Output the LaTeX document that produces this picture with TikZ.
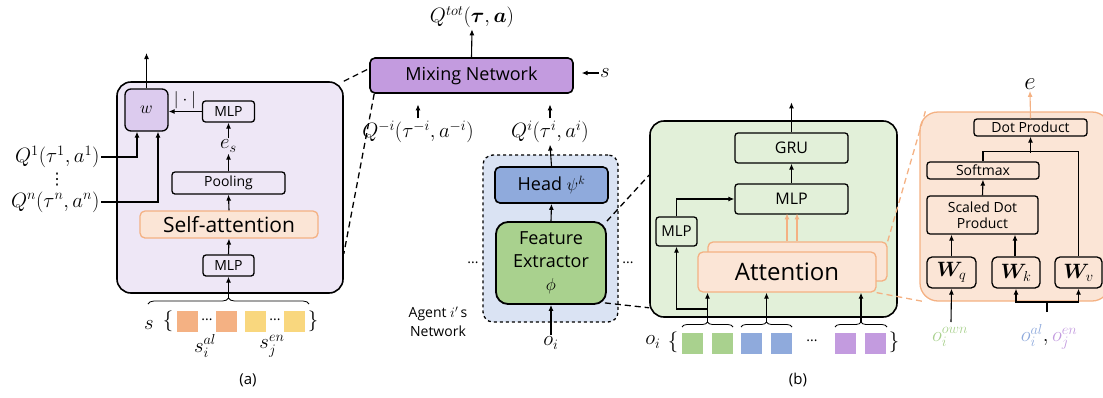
\documentclass[tikz,border=0pt]{standalone}
\usepackage{fontspec}
\setmainfont{Open Sans}
\newfontfamily\symfont{DejaVu Sans}
\usepackage{amsmath}
\usepackage{bm}
\usetikzlibrary{arrows.meta,calc,decorations.pathreplacing}

\definecolor{lavpanel}{HTML}{EEE7F6}
\definecolor{lavbox}{HTML}{DCCBEE}
\definecolor{mixpurple}{HTML}{C39BDF}
\definecolor{attorange}{HTML}{F4B183}
\definecolor{attfill}{HTML}{FBE5D6}
\definecolor{featgreen}{HTML}{A9D18E}
\definecolor{greenpanel}{HTML}{E2F0D9}
\definecolor{headblue}{HTML}{8FAADC}
\definecolor{agentblue}{HTML}{DAE3F3}
\definecolor{entyellow}{HTML}{F9D77E}

\tikzset{
  box/.style={draw, line width=1.3pt, rounded corners=3pt, inner sep=0pt, align=center},
  panel/.style={draw, line width=1.6pt, rounded corners=14pt},
  attbox/.style={draw=attorange, fill=attfill, line width=1.3pt, rounded corners=5pt},
  sq/.style={minimum size=21pt, inner sep=0pt},
  link/.style={dash pattern=on 6pt off 4pt, line width=1.3pt},
  txtbig/.style={font=\fontsize{18}{23}\selectfont},
  txtmid/.style={font=\fontsize{15}{18}\selectfont},
  txtsmall/.style={font=\fontsize{14}{16}\selectfont},
  mathlbl/.style={font=\fontsize{22}{26}\selectfont, inner sep=1pt},
  mathsub/.style={font=\fontsize{20}{22}\selectfont, inner sep=1pt},
}

\begin{document}
\begin{tikzpicture}[x=1pt, y=-1pt, >={Latex[length=6pt,width=5pt]}, line width=1.1pt]
\useasboundingbox (0,0) rectangle (1103,397);

% (a) mixing network
\node[panel, fill=lavpanel, minimum width=226pt, minimum height=211pt] (panelA) at (230,187.5) {};
\node[box, fill=lavbox, rounded corners=6pt, minimum width=43pt, minimum height=42pt, font=\fontsize{16}{16}\selectfont] (wbox) at (146.5,110) {$w$};
\node[box, txtsmall, minimum width=52pt, minimum height=21pt] (mlpTop) at (228.5,111.5) {MLP};
\node[mathsub] (es) at (228.5,146) {$e_s$};
\node[box, txtsmall, minimum width=113pt, minimum height=22pt] (pool) at (228.5,183) {Pooling};
\node[attbox, font=\fontsize{21}{24}\selectfont, minimum width=178pt, minimum height=27pt] (selfatt) at (229,224.5) {Self-attention};
\node[box, txtsmall, minimum width=51pt, minimum height=21pt] (mlpBot) at (228.5,265.5) {MLP};
\node[font=\fontsize{18}{18}\selectfont] (absv) at (185,100) {$|\cdot|$};
\coordinate (outA) at (146.5,53);
\draw[->] (wbox.north) -- (outA);
\draw[->] (mlpTop.west) -- (mlpTop.west -| wbox.east);
\draw[->] (pool.north) -- (es.south);
\draw[->] (es.north) -- (mlpTop.south);
\draw[->] (selfatt.north) -- (pool.south);
\draw[->] (mlpBot.north) -- (selfatt.south);
\node[mathlbl, anchor=east] (q1) at (101,157) {$Q^1(\tau^1,a^1)$};
\node[mathlbl, anchor=east] (qn) at (101,202) {$Q^n(\tau^n,a^n)$};
\node[font=\symfont\fontsize{16}{16}\selectfont] (qdots) at (57,180) {⋮};
\draw[->] (q1.east) -| ($(wbox.south)+(-9.5,0)$);
\draw[->] (qn.east) -| ($(wbox.south)+(11.5,0)$);

% state input
\draw[decorate, decoration={brace, amplitude=6pt}, line width=0.8pt] (148,304) -- (309,304);
\coordinate (bA) at (228.5,298);
\draw[->, line width=1.4pt] (bA) -- (mlpBot.south);
\node[mathlbl] (sA) at (149,325) {$s$};
\node[font=\fontsize{22}{22}\selectfont] (lbA) at (168,321) {$\{$};
\node[font=\fontsize{22}{22}\selectfont] (rbA) at (313,321) {$\}$};
\foreach \x in {187.5,226.5} \node[sq, fill=attorange] at (\x,321.5) {};
\foreach \x in {255.5,294.5} \node[sq, fill=entyellow] at (\x,321.5) {};
\node[txtsmall] at (207,320) {...};
\node[txtsmall] at (275,320) {...};
\node[mathsub] (sal) at (205,346) {$s_i^{al}$};
\node[mathsub] (sen) at (272,346) {$s_j^{en}$};
\node[txtmid] (capA) at (248,380) {(a)};

% mixing network on top
\node[box, txtbig, fill=mixpurple, line width=1.6pt, rounded corners=5pt, minimum width=203pt, minimum height=35pt] (mix) at (471.5,75.5) {Mixing Network};
\node[mathlbl] (qtot) at (472,17) {$Q^{tot}(\bm{\tau},\bm{a})$};
\draw[->] (mix.north) -- (qtot.south);
\node[mathlbl] (smix) at (605,73) {$s$};
\draw[->] (smix.west) -- ++(-17,0);
\node[mathlbl] (qmi) at (418,132) {$Q^{-i}(\tau^{-i},a^{-i})$};
\node[mathlbl] (qi) at (550,132) {$Q^{i}(\tau^{i},a^{i})$};
\draw[->] ($(qmi.north)+(0,-1)$) -- ++(0,-14);
\draw[->] ($(qi.north)+(0,-1)$) -- ++(0,-14);
\draw[link] (panelA.north east) -- ($(mix.west)+(0,-7)$);
\draw[link] ($(mix.south west)+(5,0)$) -- ($(panelA.south east)+(0,-40)$);

% agent network
\node[draw, dashed, fill=agentblue, line width=1.3pt, rounded corners=10pt, minimum width=135pt, minimum height=167pt] (agentbox) at (550.5,238.5) {};
\node[box, txtbig, fill=headblue, line width=1.6pt, rounded corners=5pt, minimum width=113pt, minimum height=36pt] (head) at (551.5,185) {Head $\psi^k$};
\node[box, txtbig, fill=featgreen, line width=1.8pt, rounded corners=12pt, minimum width=110pt, minimum height=82pt] (feat) at (551,263) {Feature\\Extractor\\$\phi$};
\draw[->] (feat.north) -- (head.south);
\draw[->] (head.north) -- (qi.south);
\node[mathlbl] (oi) at (551,343) {$o_i$};
\draw[->] (oi.north) -- (feat.south);
\node[txtsmall] (dotsL) at (473,263) {...};
\node[txtsmall] (dotsR) at (628,263) {...};
\node[txtsmall, align=center, font=\fontsize{14}{19}\selectfont] (agentlbl) at (438,322) {Agent $i'$\,s\\Network};

% (b) feature extractor
\node[panel, fill=greenpanel, minimum width=247pt, minimum height=196pt] (greenbox) at (773.5,219) {};
\draw[link] (feat.north east) -- ($(greenbox.west)+(0,-44)$);
\draw[link] ($(feat.south east)+(-2,-2)$) -- ($(greenbox.south west)+(0,-10)$);
\node[box, font=\fontsize{16}{18}\selectfont, minimum width=113pt, minimum height=30pt] (gru) at (791.5,148) {GRU};
\node[box, font=\fontsize{16}{18}\selectfont, minimum width=113pt, minimum height=30pt] (mlpG) at (791.5,199) {MLP};
\node[box, txtmid, minimum width=41pt, minimum height=29pt] (mlpS) at (676.5,231.5) {MLP};
\node[attbox, minimum width=179pt, minimum height=39pt] (attBack) at (797.5,261.5) {};
\node[attbox, font=\fontsize{24}{26}\selectfont, minimum width=178pt, minimum height=40pt] (attFront) at (787,272) {Attention};
\draw[->] (gru.north) -- ++(0,-30);
\draw[->] (mlpG.north) -- (gru.south);
\foreach \dx in {-10.5,-0.5}
  \draw[->, attorange] ($(attBack.north)+(\dx,0)$) -- ($(attBack.north)+(\dx,-28)$);
\draw[->] (mlpS.north) |- (mlpG.west);

% observation input
\coordinate (b1) at (707.5,322);
\coordinate (b2) at (766.5,322);
\coordinate (b3) at (861,322);
\draw[decorate, decoration={brace, amplitude=5pt}, line width=0.8pt] (682,327) -- (733,327);
\draw[decorate, decoration={brace, amplitude=5pt}, line width=0.8pt] (741,327) -- (792,327);
\draw[decorate, decoration={brace, amplitude=5pt}, line width=0.8pt] (835,327) -- (887,327);
\foreach \b in {b1,b2,b3} \draw[->] (\b) -- (\b |- attFront.south);
\draw[->] ($(b1)+(0,-13)$) -| (mlpS.south);
\node[mathlbl] (oiB) at (653,342) {$o_i$};
\node[font=\fontsize{22}{22}\selectfont] (lbB) at (673,342) {$\{$};
\node[font=\fontsize{22}{22}\selectfont] (rbB) at (894,342) {$\}$};
\foreach \x in {692.5,722.5} \node[sq, fill=featgreen] at (\x,343) {};
\foreach \x in {751.5,781.5} \node[sq, fill=headblue] at (\x,343) {};
\foreach \x in {845.5,875.5} \node[sq, fill=mixpurple] at (\x,343) {};
\node[txtsmall] at (812,341) {...};
\node[txtmid] (capB) at (798,380) {(b)};

% attention detail
\node[draw=attorange, fill=attfill, line width=1.3pt, rounded corners=18pt, minimum width=190pt, minimum height=189pt] (orangebox) at (1015,206.5) {};
\draw[link, attorange] (attBack.north east) -- ($(orangebox.north west)+(6,0)$);
\draw[link, attorange] (attFront.south east) -- ($(orangebox.south west)+(5,0)$);
\node[box, txtsmall, minimum width=113pt, minimum height=17pt] (dotprod) at (1030.5,127.5) {Dot Product};
\node[box, txtsmall, minimum width=112pt, minimum height=17pt] (softmax) at (983,170.5) {Softmax};
\node[box, txtsmall, minimum width=111pt, minimum height=38pt] (scaled) at (982.5,215) {Scaled Dot\\Product};
\node[box, mathlbl, inner sep=0pt, rounded corners=5pt, minimum width=49pt, minimum height=31pt] (wq) at (951.5,272.5) {$\bm{W}_q$};
\node[box, mathlbl, inner sep=0pt, rounded corners=5pt, minimum width=48pt, minimum height=31pt] (wk) at (1016,272.5) {$\bm{W}_k$};
\node[box, mathlbl, inner sep=0pt, rounded corners=5pt, minimum width=47pt, minimum height=31pt] (wv) at (1078.5,272.5) {$\bm{W}_v$};
\node[mathlbl, font=\fontsize{24}{26}\selectfont] (eout) at (1030,84) {$e$};
\draw[->, attorange] (dotprod.north) -- (eout.south);
\draw (softmax.north) -- ++(0,-10) -| (wv.north);
\draw[->] ($(dotprod.south)+(0,16)$) -- (dotprod.south);
\draw[->] (scaled.north) -- (softmax.south);
\draw[->] (wq.north) -- (wq.north |- scaled.south);
\draw[->] ($(wk.north)+(-1,0)$) -- ($(wk.north |- scaled.south)+(-1,0)$);
\node[mathsub, text=featgreen] (oown) at (950,337) {$o_i^{own}$};
\node[mathsub] (oalen) at (1049,337) {$\textcolor{headblue}{o_i^{al}},\textcolor{mixpurple}{o_j^{en}}$};
\coordinate (ownTail) at (951,322);
\coordinate (stemB) at (1047,312);
\coordinate (forkB) at (1047,302);
\draw[->] (ownTail) -- (wq.south);
\draw (stemB) -- (forkB);
\draw[->] (forkB) -| (wk.south);
\draw[->] (forkB) -| (wv.south);
\end{tikzpicture}
\end{document}
